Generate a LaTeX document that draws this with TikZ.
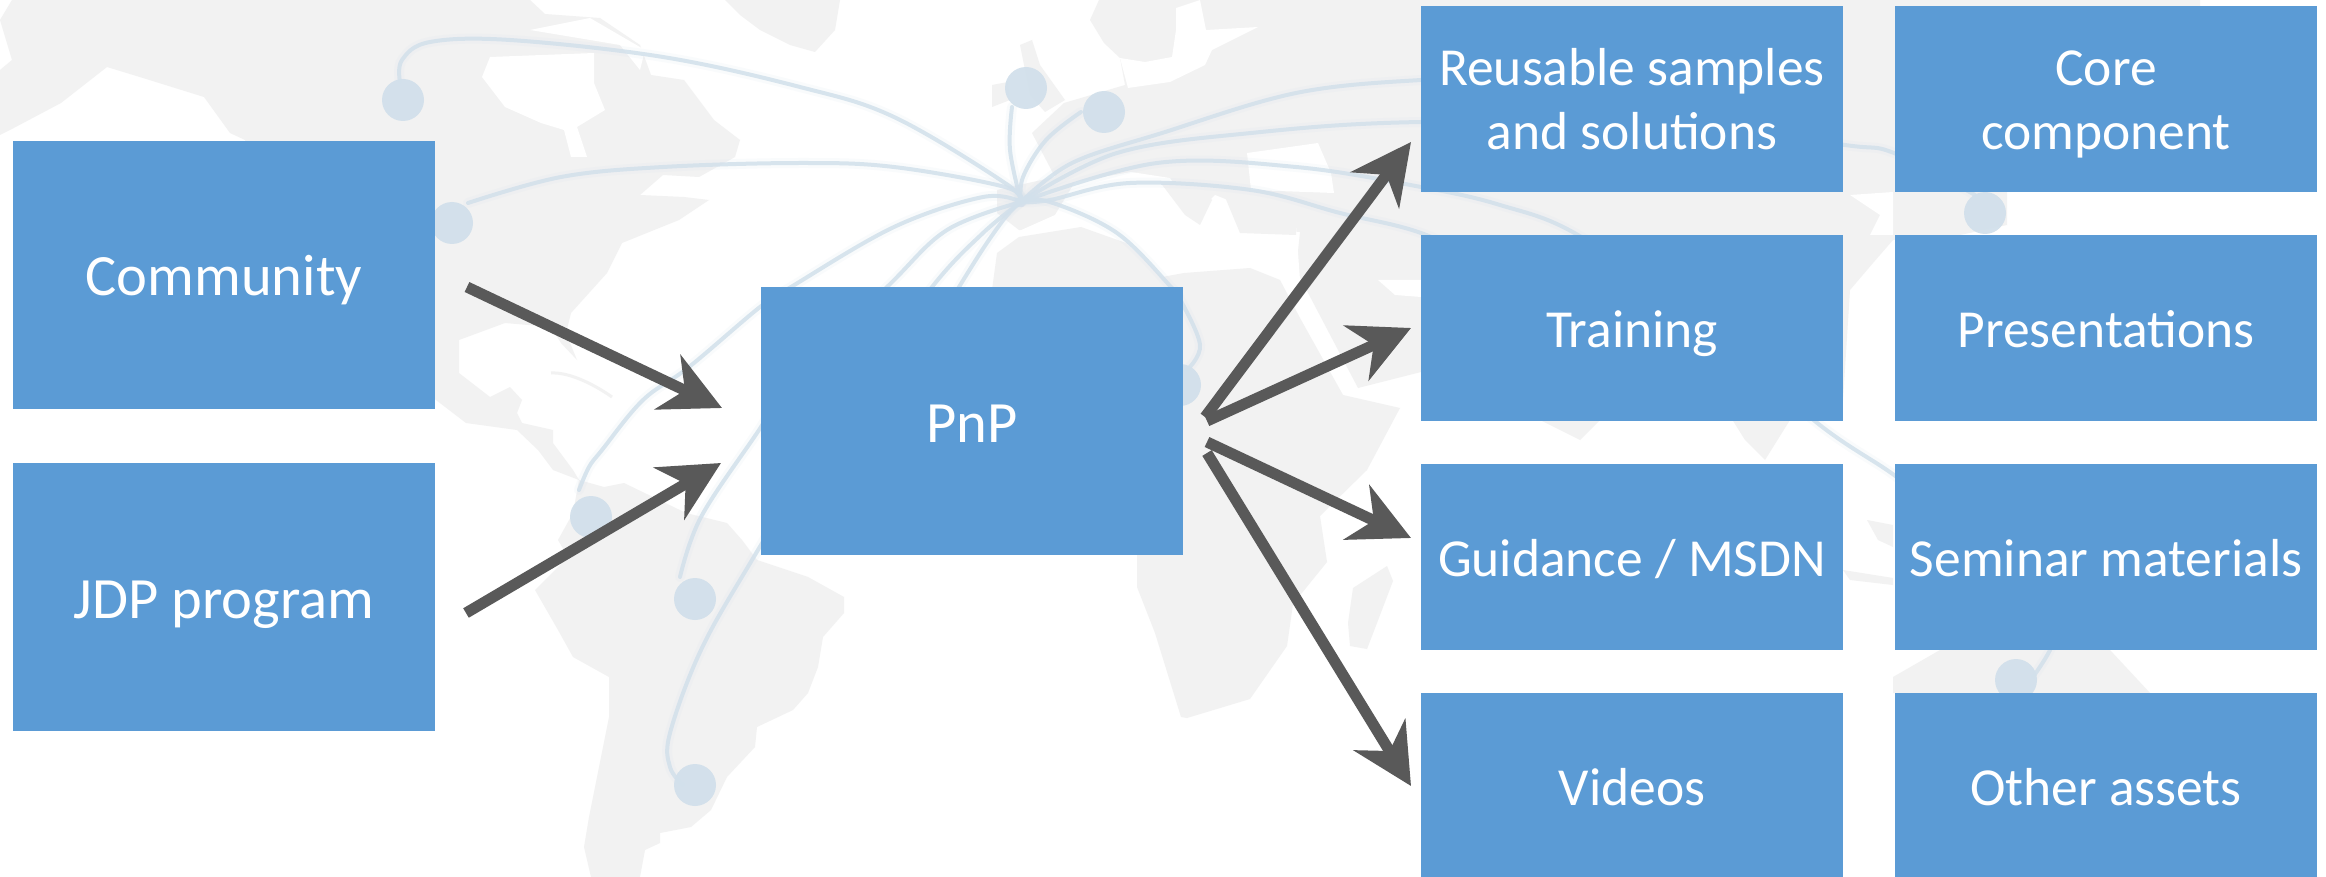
\documentclass[tikz,border=0pt]{standalone}
\usepackage{fontspec}
\setmainfont{Carlito}
\usetikzlibrary{arrows.meta}
\definecolor{boxblue}{HTML}{5B9BD5}
\definecolor{arrowgrey}{HTML}{595959}
\definecolor{landgrey}{HTML}{F2F2F2}
\definecolor{routeblue}{HTML}{D2E0EB}
\newcommand{\st}{\rule[-12pt]{0pt}{62pt}}
\newcommand{\stb}{\rule[-12pt]{0pt}{66pt}}
\tikzset{
  itembox/.style={fill=boxblue,draw=none,text=white,align=center,inner sep=0pt,
    font=\fontsize{53.5}{64}\selectfont},
  bigbox/.style={itembox,font=\fontsize{58.5}{64}\selectfont},
  flow/.style={draw=arrowgrey,line width=11pt,
    -{Stealth[length=60pt,width=60pt,inset=19pt,fill=arrowgrey]}},
  land/.style={fill=landgrey,draw=none},
  sea/.style={fill=white,draw=none},
  route/.style={draw=routeblue,line width=4pt,line cap=round,opacity=.85},
  routeglow/.style={draw=routeblue,line width=10pt,line cap=round,opacity=.12},
  city/.style={fill=routeblue,draw=none,opacity=.95},
}
\newcommand{\mkbox}[7]{% style, name, x0, y0, x1, y1, text
  \node[#1,minimum width=#5pt-#3pt,minimum height=#6pt-#4pt] (#2) at ({(#3+#5)/2},{(#4+#6)/2}) {#7};}
\newcommand{\flight}[1]{%
  \draw[routeglow] plot[smooth,tension=.6] coordinates {#1};
  \draw[route] plot[smooth,tension=.6] coordinates {#1};}
\begin{document}
\begin{tikzpicture}[x=1pt,y=-1pt]
\useasboundingbox (0,0) rectangle (2326,877);
\fill[white] (0,0) rectangle (2326,877);

% North and Central America
\fill[land] (0,20) -- (12,0) -- (530,0) -- (545,14) -- (600,18) -- (640,45) -- (651,75) -- (684,80) -- (714,120) -- (740,140) -- (735,157)
  -- (699,177) -- (663,175) -- (640,195) -- (684,197) -- (709,200) -- (679,220) -- (622,243) -- (607,273) -- (571,313) -- (566,333)
  -- (577,360) -- (561,343) -- (551,327) -- (505,323) -- (459,340) -- (459,373) -- (490,397) -- (510,387) -- (522,400) -- (517,413) -- (522,423)
  -- (553,430) -- (553,443) -- (573,470) -- (579,480) -- (553,470) -- (538,450) -- (517,430) -- (466,423) -- (436,400)
  -- (300,300) -- (245,140) -- (230,133) -- (204,97) -- (143,78) -- (107,67) -- (61,103) -- (10,130) -- (0,135) -- (0,70) -- (12,60) -- cycle;
\fill[sea] (482,77) -- (490,57) -- (594,53) -- (594,83) -- (605,110) -- (577,127) -- (587,157) -- (571,157) -- (564,130) -- (541,123) -- (505,107) -- cycle;
\fill[sea] (530,30) -- (590,18) -- (645,50) -- (640,70) -- (620,45) -- cycle;
% Greenland
\fill[land] (725,0) -- (840,0) -- (835,30) -- (815,52) -- (790,45) -- (760,30) -- (740,15) -- cycle;
% South America
\fill[land] (579,480) -- (604,487) -- (624,483) -- (686,513) -- (727,523) -- (742,540) -- (757,560) -- (808,577) -- (844,597) -- (844,613)
  -- (823,637) -- (818,667) -- (808,693) -- (793,710) -- (757,727) -- (755,747) -- (727,777) -- (711,810) -- (691,827) -- (660,833)
  -- (660,843) -- (645,850) -- (640,877) -- (591,877) -- (584,847) -- (589,817) -- (609,717) -- (609,677) -- (573,657) -- (558,630)
  -- (535,590) -- (568,557) -- (558,540) -- (573,513) -- cycle;
% Eurasia
\fill[land] (1099,0) -- (1090,20) -- (1104,43) -- (1120,58) -- (1125,85) -- (1064,103) -- (1032,133) -- (1055,177) -- (997,190) -- (997,213)
  -- (1019,230) -- (1300,232) -- (1296,270) -- (1358,388) -- (1421,372) -- (1421,400) -- (1500,400) -- (1580,440) -- (1620,400) -- (1720,400)
  -- (1745,440) -- (1765,460) -- (1790,420) -- (1843,400) -- (1850,290) -- (1873,263) -- (1893,240) -- (1960,235) -- (2007,225) -- (2007,192)
  -- (2200,100) -- (2200,0) -- cycle;
% Seas
\fill[sea] (1200,0) -- (1206,30) -- (1258,27) -- (1212,50) -- (1205,65) -- (1170,82) -- (1128,88) -- (1120,58) -- (1145,62) -- (1172,57) -- (1176,30) -- (1176,8) -- cycle;
\fill[sea] (1247,153) -- (1318,143) -- (1331,173) -- (1334,193) -- (1251,190) -- cycle;
\fill[sea] (1010,235) -- (1055,215) -- (1075,182) -- (1131,172) -- (1170,178) -- (1195,215) -- (1215,195) -- (1240,205) -- (1296,225) -- (1300,280) -- (1160,285) -- (1110,245) -- cycle;
\fill[sea] (1378,280) -- (1421,280) -- (1421,297) -- (1395,295) -- cycle;
\fill[sea] (1850,195) -- (1893,192) -- (1893,235) -- (1870,235) -- (1880,215) -- cycle;
% Turkey, Balkans and Italy
\fill[land] (1225,197) -- (1296,197) -- (1296,235) -- (1240,233) -- cycle;
\fill[land] (1160,182) -- (1195,182) -- (1212,200) -- (1200,225) -- (1185,215) -- cycle;
% Africa
\fill[land] (992,290) -- (997,253) -- (1019,237) -- (1081,227) -- (1126,243) -- (1162,277) -- (1184,273) -- (1250,268) -- (1280,280) -- (1300,318)
  -- (1343,395) -- (1400,408) -- (1367,470) -- (1320,516) -- (1327,562) -- (1293,604) -- (1287,646) -- (1250,699) -- (1187,718)
  -- (1181,717) -- (1155,633) -- (1137,587) -- (1137,520) -- cycle;
\fill[land] (1353,588) -- (1387,566) -- (1393,581) -- (1377,623) -- (1367,649) -- (1350,646) -- (1348,623) -- cycle;
% British Isles
\fill[land] (1020,45) -- (1032,40) -- (1040,65) -- (1065,100) -- (1045,112) -- (1030,95) -- cycle;
\fill[land] (992,85) -- (1008,82) -- (1010,100) -- (992,107) -- cycle;
% Cuba
\draw[landgrey,line width=3pt] (551,373) .. controls (570,372) and (595,385) .. (612,397);
% Indonesia and Australia
\fill[land] (1867,520) -- (1893,525) -- (1893,547) -- (1878,540) -- cycle;
\fill[land] (1843,570) -- (1893,578) -- (1893,585) -- (1850,580) -- cycle;
\fill[land] (1893,677) -- (1940,650) -- (2110,650) -- (2150,693) -- (1893,693) -- cycle;

% Flight routes
\flight{(400,82)(402,60)(430,42)(510,40)(663,57)(800,87)(894,117)(1005,183)(1021,202)}
\flight{(468,203)(561,177)(663,167)(800,163)(894,167)(1005,187)(1021,202)}
\flight{(579,490)(589,467)(602,450)(643,400)(689,367)(760,307)(791,287)(894,227)(983,197)(1021,202)}
\flight{(680,577)(701,517)(757,433)(800,370)(887,287)(947,230)(1021,202)}
\flight{(683,785)(670,767)(670,733)(701,650)(752,560)(850,400)(932,287)(983,233)(1021,202)}
\flight{(850,470)(959,287)(1001,223)(1021,202)}
\flight{(1187,370)(1200,345)(1180,299)(1171,287)(1117,233)(1050,202)(1021,202)}
\flight{(1012,107)(1010,150)(1021,202)}
\flight{(1081,112)(1046,140)(1023,177)(1021,202)}
\flight{(1021,202)(1072,163)(1162,133)(1296,93)(1421,80)(1500,80)}
\flight{(1021,202)(1117,153)(1251,133)(1421,122)(1700,125)(1845,145)(1894,153)(1975,195)}
\flight{(1021,202)(1157,163)(1296,167)(1421,187)(1500,205)(1578,235)(1700,320)(1816,422)(1894,475)(1950,520)}
\flight{(1021,202)(1050,200)(1130,183)(1251,190)(1340,213)(1421,233)(1500,270)}
\flight{(2033,677)(2050,650)(2060,620)}

\fill[city] (403,100) circle (21);
\fill[city] (452,223) circle (21);
\fill[city] (591,517) circle (21);
\fill[city] (695,599) circle (21);
\fill[city] (695,785) circle (21);
\fill[city] (1026,88) circle (21);
\fill[city] (1104,112) circle (21);
\fill[city] (1180,385) circle (21);
\fill[city] (1985,213) circle (21);
\fill[city] (2016,680) circle (21);

% Boxes
\mkbox{bigbox}{community}{13}{141}{435}{409}{\stb Community}
\mkbox{bigbox}{jdp}{13}{463}{435}{731}{\stb JDP program}
\mkbox{bigbox}{pnp}{761}{287}{1183}{555}{\stb PnP}
\mkbox{itembox}{reuse}{1421}{6}{1843}{192}{\st Reusable samples\\\st and solutions}
\mkbox{itembox}{training}{1421}{235}{1843}{421}{\st Training}
\mkbox{itembox}{guidance}{1421}{464}{1843}{650}{\st Guidance / MSDN}
\mkbox{itembox}{videos}{1421}{693}{1843}{879}{\st Videos}
\mkbox{itembox}{core}{1895}{6}{2317}{192}{\st Core\\\st component}
\mkbox{itembox}{present}{1895}{235}{2317}{421}{\st Presentations}
\mkbox{itembox}{seminar}{1895}{464}{2317}{650}{\st Seminar materials}
\mkbox{itembox}{other}{1895}{693}{2317}{879}{\st Other assets}

% Connector ends
\coordinate (cs) at (467,287);
\coordinate (ct) at (722,408);
\coordinate (js) at (466,613);
\coordinate (jt) at (721,463);
\coordinate (rs) at (1205,417);
\coordinate (rt) at (1411,142);
\coordinate (ts) at (1207,421);
\coordinate (tt) at (1411,328);
\coordinate (gs) at (1207,442);
\coordinate (gt) at (1411,538);
\coordinate (vs) at (1207,453);
\coordinate (vt) at (1411,786);
\draw[flow] (cs) -- (ct);
\draw[flow] (js) -- (jt);
\draw[flow] (rs) -- (rt);
\draw[flow] (ts) -- (tt);
\draw[flow] (gs) -- (gt);
\draw[flow] (vs) -- (vt);
\end{tikzpicture}
\end{document}
